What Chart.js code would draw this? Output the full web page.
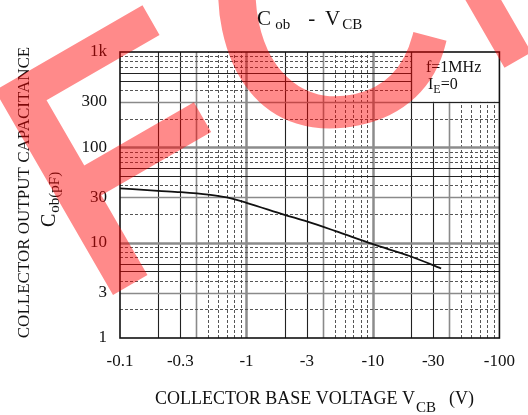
<!DOCTYPE html>
<html><head><meta charset="utf-8">
<script src="https://cdn.jsdelivr.net/npm/chart.js@4/dist/chart.umd.min.js"></script>
<style>html,body{margin:0;padding:0;background:#fff}#wrap{width:528px;height:415px;position:relative}</style>
</head><body><div id="wrap"><canvas id="c" width="528" height="415"></canvas></div>
<script>
// ---- data (VCB magnitudes in volts; axis labels show the negative sign) ----
const vcbAbs = [0.1, 0.2, 0.3, 0.5, 0.7, 1, 2, 3, 5, 10, 20, 34.6];
const cobPF  = [37.2, 35.0, 33.9, 31.9, 29.8, 26.2, 19.6, 16.7, 13.3, 9.64, 7.16, 5.36];
const xTickValues = [0.1, 0.3, 1, 3, 10, 30, 100];
const xTickLabels = ['-0.1', '-0.3', '-1', '-3', '-10', '-30', '-100'];
const yTickValues = [1, 3, 10, 30, 100, 300, 1000];
const yTickLabels = ['1', '3', '10', '30', '100', '300', '1k'];
const xDecades = [0.1, 1, 10];
const yDecades = [1, 10, 100];
const xMinorStyle = {2:'dark', 3:'dark', 4:'gray', 5:'dash', 6:'dash', 7:'dash', 8:'dash', 9:'dash'};
const yMinorStyle = {2:'dash', 3:'gray', 4:'dash', 5:'dark', 6:'dark', 7:'dash', 8:'dash', 9:'dash'};
const legendBox = {xFrom: 20, yFrom: 300};
const legendLines = ['f=1MHz', 'IE=0'];

const SERIF = '"Liberation Serif", "Times New Roman", serif';
const STYLES = {
  major: {w: 2.5, c: '#8c8c8c', d: []},
  dark:  {w: 1.1, c: '#222',    d: []},
  gray:  {w: 1.6, c: '#8a8a8a', d: []},
  dash:  {w: 1.0, c: '#555',    d: [3, 2]}
};

function gridLines(decades, minorStyle, max) {
  const out = [];
  decades.forEach(d => {
    if (d !== decades[0]) out.push({v: d, s: 'major'});
    for (let k = 2; k <= 9; k++) out.push({v: d * k, s: minorStyle[k]});
  });
  return out.filter(o => o.v < max);
}

const gridPlugin = {
  id: 'loggrid',
  beforeDatasetsDraw(chart) {
    const {ctx, chartArea: a, scales: {x, y}} = chart;
    const bx = x.getPixelForValue(legendBox.xFrom);
    const by = y.getPixelForValue(legendBox.yFrom);
    ctx.save();
    gridLines(xDecades, xMinorStyle, 100).forEach(g => {
      const st = STYLES[g.s];
      const px = Math.round(x.getPixelForValue(g.v)) + 0.5;
      ctx.beginPath(); ctx.lineWidth = st.w; ctx.strokeStyle = st.c; ctx.setLineDash(st.d);
      const top = g.v > legendBox.xFrom ? by : a.top;
      ctx.moveTo(px, a.bottom); ctx.lineTo(px, top); ctx.stroke();
    });
    gridLines(yDecades, yMinorStyle, 1000).forEach(g => {
      const st = STYLES[g.s];
      const py = Math.round(y.getPixelForValue(g.v)) + 0.5;
      ctx.beginPath(); ctx.lineWidth = st.w; ctx.strokeStyle = st.c; ctx.setLineDash(st.d);
      const right = g.v > legendBox.yFrom ? bx : a.right;
      ctx.moveTo(a.left, py); ctx.lineTo(right, py); ctx.stroke();
    });
    ctx.setLineDash([]);
    ctx.strokeStyle = '#222'; ctx.lineWidth = 1.2;
    ctx.beginPath();
    ctx.moveTo(Math.round(bx) + 0.5, a.top); ctx.lineTo(Math.round(bx) + 0.5, by);
    ctx.moveTo(bx, Math.round(by) + 0.5); ctx.lineTo(a.right, Math.round(by) + 0.5);
    ctx.stroke();
    ctx.lineWidth = 1.6; ctx.strokeStyle = '#111';
    ctx.strokeRect(a.left, a.top, a.right - a.left, a.bottom - a.top);
    ctx.fillStyle = '#111'; ctx.textBaseline = 'alphabetic'; ctx.textAlign = 'left';
    ctx.font = '16px ' + SERIF;
    ctx.fillText(legendLines[0], bx + 15, a.top + 20);
    drawRich(ctx, [{t: 'I', s: 16}, {t: 'E', s: 12, dy: 4}, {t: '=0', s: 16}], bx + 17, a.top + 37);
    ctx.restore();
  }
};

function drawRich(ctx, parts, x, y) {
  let cx = x;
  parts.forEach(p => {
    ctx.font = p.s + 'px ' + SERIF;
    cx += (p.gap || 0);
    ctx.fillText(p.t, cx, y + (p.dy || 0));
    cx += ctx.measureText(p.t).width;
  });
  return cx;
}
function richWidth(ctx, parts) {
  let w = 0;
  parts.forEach(p => { ctx.font = p.s + 'px ' + SERIF; w += (p.gap || 0) + ctx.measureText(p.t).width; });
  return w;
}

function drawWatermark(ctx, W, H) {
  const off = document.createElement('canvas');
  off.width = W; off.height = H;
  const o = off.getContext('2d');
  o.fillStyle = '#ff0000'; o.strokeStyle = '#ff0000'; o.lineJoin = 'miter';
  o.textBaseline = 'alphabetic';
  const glyph = (t, size, cx, cy, rotDeg, u, v, align, lw) => {
    o.save();
    o.translate(cx, cy); o.rotate(rotDeg * Math.PI / 180);
    o.font = size + 'px "Liberation Sans", Arial, sans-serif';
    o.textAlign = align; o.lineWidth = lw;
    o.fillText(t, u, v); if (lw > 0) o.strokeText(t, u, v);
    o.restore();
  };
  glyph('F', 330, 113, 292, -30, -24, -2, 'left', 9);
  glyph('C', 332, 325, 4, -12, 0, 0.36 * 332, 'center', 6);
  glyph('I', 300, 113, 292, -30, 425, 0, 'left', 3);
  ctx.save();
  ctx.globalAlpha = 0.46;
  ctx.drawImage(off, 0, 0);
  ctx.restore();
}

const textPlugin = {
  id: 'texts',
  afterDraw(chart) {
    const {ctx, chartArea: a} = chart;
    ctx.save();
    ctx.fillStyle = '#111'; ctx.textAlign = 'left'; ctx.textBaseline = 'alphabetic';
    const title = [{t: 'C', s: 21}, {t: 'ob', s: 15, dy: 4, gap: 4}, {t: '-', s: 21, gap: 18}, {t: 'V', s: 21, gap: 10}, {t: 'CB', s: 15, dy: 4, gap: 2}];
    const tw = richWidth(ctx, title);
    drawRich(ctx, title, (a.left + a.right) / 2 - tw / 2, 25);
    const xt = [{t: 'COLLECTOR BASE VOLTAGE V', s: 18}, {t: 'CB', s: 15, dy: 8, gap: 1}, {t: '(V)', s: 18, gap: 13}];
    drawRich(ctx, xt, 155, 404);
    ctx.save();
    ctx.translate(28.5, 192.5); ctx.rotate(-Math.PI / 2);
    ctx.font = '17px ' + SERIF; ctx.textAlign = 'center';
    ctx.fillText('COLLECTOR OUTPUT CAPACITANCE', 0, 0);
    ctx.restore();
    ctx.save();
    ctx.translate(55, 227); ctx.rotate(-Math.PI / 2);
    ctx.textAlign = 'left';
    drawRich(ctx, [{t: 'C', s: 20}, {t: 'ob(pF)', s: 15, dy: 4, gap: 1}], 0, 0);
    ctx.restore();
    ctx.restore();
    drawWatermark(ctx, chart.width, chart.height);
  }
};

const tickFont = {family: SERIF, size: 17};
new Chart(document.getElementById('c').getContext('2d'), {
  type: 'line',
  data: {
    datasets: [{
      data: vcbAbs.map((v, i) => ({x: v, y: cobPF[i]})),
      borderColor: '#111', borderWidth: 1.8, pointRadius: 0,
      cubicInterpolationMode: 'monotone', fill: false
    }]
  },
  options: {
    responsive: false, animation: false, devicePixelRatio: 1,
    layout: {padding: {left: 0, right: 22, top: 52, bottom: 0}},
    plugins: {legend: {display: false}, tooltip: {enabled: false}, title: {display: false}},
    scales: {
      x: {
        type: 'logarithmic', min: 0.1, max: 100,
        grid: {display: false, drawTicks: false}, border: {display: false},
        afterBuildTicks: s => { s.ticks = xTickValues.map(v => ({value: v})); },
        afterFit: s => { s.height = 77; },
        ticks: {autoSkip: false, maxRotation: 0, minRotation: 0, padding: 13, color: '#111', font: tickFont,
          callback: (v, i) => xTickLabels[i]}
      },
      y: {
        type: 'logarithmic', min: 1, max: 1000,
        grid: {display: false, drawTicks: false}, border: {display: false},
        afterBuildTicks: s => { s.ticks = yTickValues.map(v => ({value: v})); },
        afterFit: s => { s.width = 120; },
        ticks: {autoSkip: false, padding: 13, color: '#111', font: tickFont,
          callback: (v, i) => yTickLabels[i]}
      }
    }
  },
  plugins: [gridPlugin, textPlugin]
});
</script></body></html>
